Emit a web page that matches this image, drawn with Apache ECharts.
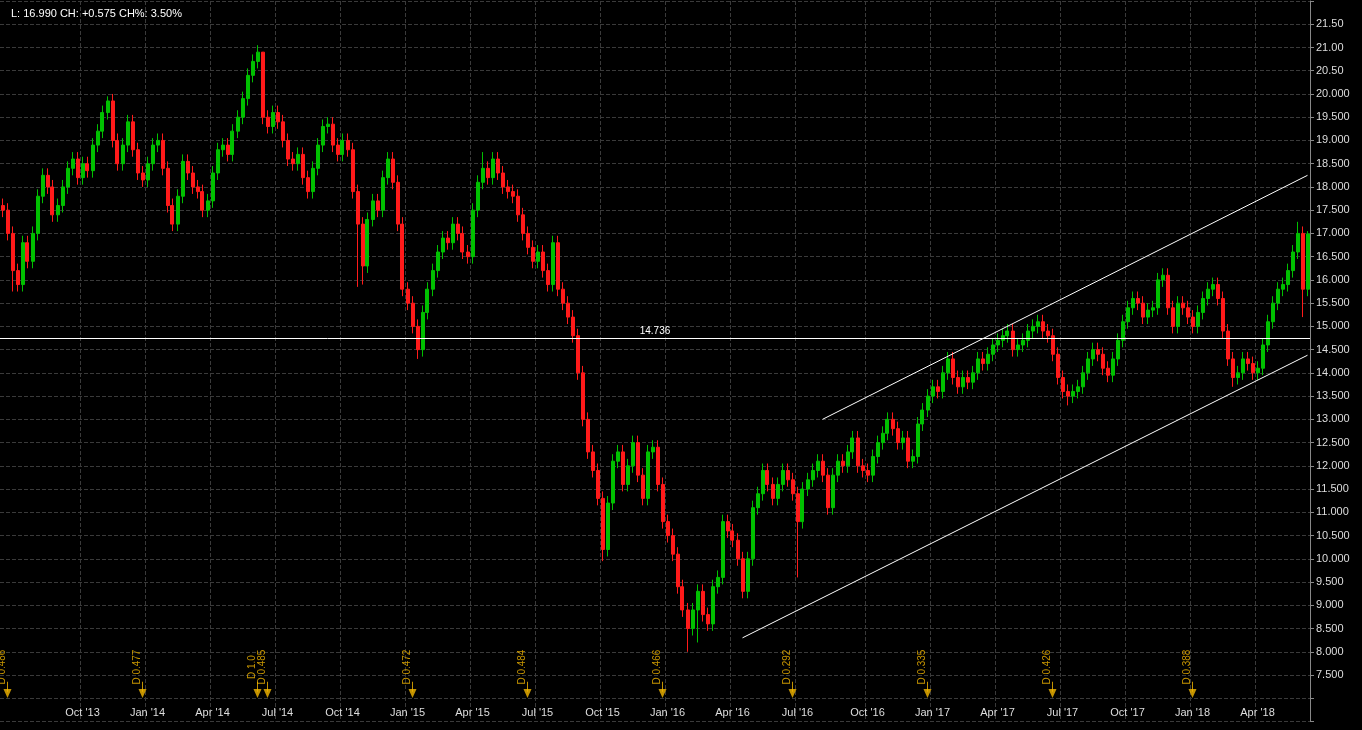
<!DOCTYPE html>
<html><head><meta charset="utf-8">
<script src="https://cdn.jsdelivr.net/npm/echarts@6/dist/echarts.min.js"></script>
<style>html,body{margin:0;background:#000;}#c{width:1362px;height:730px;}</style>
</head><body><div id="c"></div>
<script>
// weekly closes, weeks starting 2013-06-14
const closes = [17.5,17.0,16.2,15.9,16.8,16.4,17.0,17.8,18.25,18.0,17.4,17.6,18.0,18.4,18.6,18.2,18.5,18.35,18.9,19.2,
19.6,19.85,19.0,18.5,18.9,19.4,18.8,18.3,18.15,18.5,18.9,19.0,18.4,17.6,17.2,17.8,18.55,18.3,18.0,17.9,
17.5,17.7,18.3,18.8,18.9,18.7,19.2,19.5,19.9,20.4,20.7,20.9,19.5,19.3,19.6,19.4,19.0,18.6,18.5,18.7,
18.2,17.9,18.4,18.9,19.3,19.35,18.9,18.7,19.0,18.8,17.9,17.2,16.3,17.3,17.7,17.5,18.2,18.6,18.1,17.2,
15.8,15.5,15.0,14.5,15.3,15.8,16.2,16.6,16.9,16.8,17.2,17.0,16.6,16.5,17.5,18.1,18.4,18.2,18.6,18.3,
18.0,17.9,17.8,17.4,17.0,16.7,16.4,16.6,16.2,15.9,16.8,15.8,15.5,15.2,14.8,14.0,13.0,12.3,11.9,11.3,
10.2,11.2,12.1,12.3,11.6,12.0,12.5,11.8,11.3,12.3,12.4,11.6,10.8,10.5,10.1,9.4,8.9,8.5,8.9,9.3,
8.8,8.6,9.4,9.6,10.8,10.6,10.4,10.0,9.3,10.0,11.1,11.4,11.9,11.6,11.3,11.6,11.9,11.7,11.4,10.8,
11.5,11.7,11.9,12.1,11.8,11.1,11.8,12.1,12.0,12.3,12.6,12.0,11.9,11.8,12.2,12.5,12.7,13.0,12.8,12.5,
12.6,12.1,12.2,12.9,13.2,13.5,13.7,13.6,14.0,14.3,13.9,13.7,13.9,13.8,14.0,14.3,14.2,14.4,14.6,14.7,
14.8,14.9,14.5,14.6,14.7,14.9,15.0,15.1,14.9,14.8,14.4,13.9,13.6,13.5,13.6,13.7,14.0,14.3,14.5,14.4,
14.1,13.95,14.3,14.7,15.1,15.4,15.6,15.5,15.2,15.35,15.4,16.0,16.1,15.4,15.0,15.5,15.4,15.2,15.0,15.3,
15.6,15.8,15.9,15.6,14.9,14.3,13.9,14.0,14.3,14.2,14.0,14.1,14.6,15.1,15.5,15.8,15.9,16.2,16.6,17.0,
15.8,16.99];
const lowOverrides = {2:15.75,71:15.85,72:15.9,83:14.3,120:9.95,137:8.0,139:8.2,148:9.15,159:9.6,213:13.3,246:13.7,260:15.2};
const highOverrides = {51:21.05,52:20.1,259:17.25,261:17.05,96:18.75,21:19.95};
const divIdx = [1,28,51,53,82,105,132,158,185,210,238];
const divLabels = ['D 0.486','D 0.477','D 1.0','D 0.485','D 0.472','D 0.484','D 0.466','D 0.292','D 0.335','D 0.426','D 0.388'];
const hLevel = 14.736;

const start = new Date(Date.UTC(2013,5,14));
const cats = closes.map((_,i)=>{const d=new Date(start.getTime()+i*7*86400000);return d.toISOString().slice(0,10);});
const mon=['Jan','Feb','Mar','Apr','May','Jun','Jul','Aug','Sep','Oct','Nov','Dec'];
const labelIdx = new Set();
cats.forEach((c,i)=>{ if(i<10) return; const m=+c.slice(5,7), pm=+cats[i-1].slice(5,7); if(m!==pm && [1,4,7,10].includes(m)) labelIdx.add(i);});
const ohlc = closes.map((c,i)=>{const o=i?closes[i-1]:c+0.1;
  const l = lowOverrides[i]!==undefined?lowOverrides[i]:Math.min(o,c)-0.15;
  const h = highOverrides[i]!==undefined?highOverrides[i]:Math.max(o,c)+0.15;
  return [o,c,l,h];});
const last=closes.length-1;
const chart = echarts.init(document.getElementById('c'));
const iv=(i)=>labelIdx.has(i);
chart.setOption({
  backgroundColor:'#000', animation:false,
  title:{text:'L: 16.990 CH: +0.575 CH%: 3.50%',left:6,top:3,textStyle:{color:'#fff',fontSize:11,fontWeight:'normal',fontFamily:'Arial'}},
  grid:{left:0,right:52,top:1,bottom:8.5},
  xAxis:{type:'category',data:cats,boundaryGap:true,
    axisLine:{show:false},axisTick:{show:false},
    axisLabel:{inside:true,interval:(i)=>iv(i),color:'#ddd',fontSize:11,margin:3,fontFamily:'Arial',
      formatter:(v)=>mon[+v.slice(5,7)-1]+" '"+v.slice(2,4)},
    splitLine:{show:true,interval:(i)=>iv(i),lineStyle:{color:'#3a3a3a',type:'dashed'}}},
  yAxis:{type:'value',position:'right',min:6.5,max:22,interval:0.5,
    axisLine:{show:true,lineStyle:{color:'#888'}},axisTick:{show:true,lineStyle:{color:'#888'},length:4},
    axisLabel:{color:'#ddd',fontSize:11,fontFamily:'Arial',margin:6,
      formatter:(v)=> (v<7.5||v>21.5)?'':(v>=20.5?v.toFixed(2):v.toFixed(3))},
    splitLine:{lineStyle:{color:'#3a3a3a',type:'dashed'}}},
  series:[{type:'candlestick',data:ohlc,barWidth:'70%',
    itemStyle:{color:'#00c000',color0:'#ff1a1a',borderColor:'#00c000',borderColor0:'#ff1a1a'},
    markLine:{symbol:'none',silent:true,animation:false,lineStyle:{color:'#fff',width:1,type:'solid'},
      data:[
        {yAxis:hLevel,label:{show:true,position:'middle',formatter:'14.736',color:'#fff',fontSize:10,distance:2}},
        [{coord:[cats[164],13.0]},{coord:[cats[last],18.25]}],
        [{coord:[cats[148],8.3]},{coord:[cats[last],14.38]}]
      ].map(d=>Array.isArray(d)?d.map(p=>Object.assign(p,{label:{show:false}})):d)}},
   {type:'scatter',data:divIdx.map(i=>[cats[i],7.1]),symbol:'triangle',symbolRotate:180,symbolSize:[8,9],
    itemStyle:{color:'#f5b800'},
    label:{show:true,position:'top',rotate:90,distance:22,color:'#f5b800',fontSize:10,fontFamily:'Arial',
      formatter:(p)=>divLabels[p.dataIndex]}},
   {type:'scatter',data:divIdx.map(i=>[cats[i],7.25]),symbol:'rect',symbolSize:[1,10],itemStyle:{color:'#f5b800'}}
  ]
});
</script></body></html>
